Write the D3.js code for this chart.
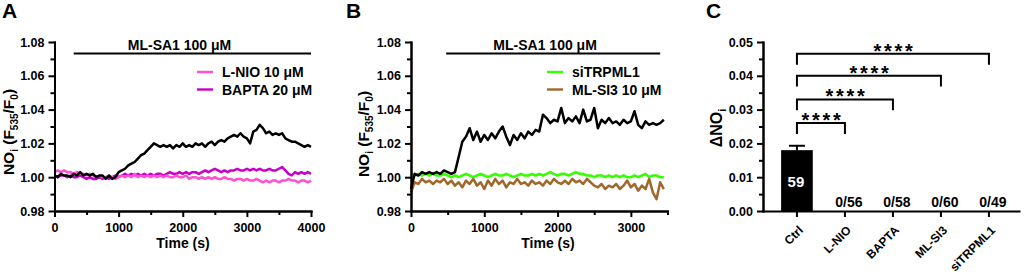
<!DOCTYPE html>
<html><head><meta charset="utf-8">
<script src="https://cdn.jsdelivr.net/npm/d3@7/dist/d3.min.js"></script>
<style>
html,body{margin:0;padding:0;background:#fff;}
svg{display:block;font-family:"Liberation Sans",Arial,sans-serif;font-weight:bold;}
</style></head><body>
<svg id="chart" width="1024" height="275"></svg>
<script>
// ---------------- DATA ----------------
const stepA = 50; // s between samples, panel A
const stepB = 50; // s between samples, panel B
const ctrlA = [1.001,1.000,1.002,1.001,1.001,1.000,1.002,1.001,1.003,1.001,1.002,1.001,1.002,1.000,1.001,1.001,0.999,1.001,0.999,1.000,
 1.003,1.004,1.005,1.007,1.008,1.009,1.011,1.013,1.014,1.016,1.018,1.020,1.019,1.018,1.019,1.018,1.019,1.017,1.019,1.018,
 1.020,1.018,1.019,1.018,1.020,1.019,1.020,1.018,1.020,1.021,1.019,1.021,1.022,1.021,1.023,1.024,1.025,1.024,1.026,1.024,
 1.023,1.020,1.027,1.028,1.031,1.029,1.026,1.027,1.025,1.026,1.025,1.026,1.023,1.022,1.021,1.021,1.020,1.019,1.018,1.019,1.018];
const lnioA = [1.003,1.004,1.003,1.004,1.003,1.003,1.002,1.003,1.002,1.002,1.001,1.002,1.001,1.000,1.001,1.000,1.000,1.001,1.000,0.999,
 1.000,1.001,1.000,1.001,1.000,1.002,1.000,1.001,1.000,1.001,1.000,1.001,1.000,1.001,1.000,1.001,1.000,1.000,1.001,1.000,
 1.000,1.001,0.999,1.000,1.000,0.999,1.000,0.999,1.000,0.999,1.000,0.999,0.999,1.000,0.999,0.999,0.998,0.999,0.999,0.998,
 0.999,0.998,0.998,0.999,0.998,0.997,0.998,0.997,0.998,0.998,0.997,0.998,0.998,0.999,0.998,0.998,0.997,0.998,0.998,0.997,0.998];
const baptaA = [1.001,1.000,1.001,1.001,1.000,1.001,1.000,1.000,1.001,1.000,0.999,1.000,0.999,0.999,1.000,0.999,1.000,0.999,1.000,1.001,
 1.000,1.001,1.002,1.001,1.002,1.001,1.002,1.001,1.002,1.001,1.002,1.001,1.002,1.002,1.001,1.002,1.003,1.002,1.002,1.003,
 1.002,1.003,1.002,1.003,1.003,1.002,1.003,1.004,1.003,1.004,1.005,1.004,1.003,1.004,1.003,1.004,1.004,1.005,1.004,1.004,
 1.005,1.004,1.005,1.004,1.005,1.004,1.004,1.005,1.004,1.004,1.005,1.006,1.004,1.002,1.001,1.003,1.002,1.003,1.002,1.003,1.002];
const ctrlB = [0.993,1.002,1.001,1.003,1.002,1.003,1.002,1.003,1.002,1.004,1.003,1.002,1.003,1.012,1.021,1.024,1.029,1.022,1.027,1.021,
 1.025,1.022,1.026,1.023,1.027,1.030,1.024,1.019,1.025,1.022,1.026,1.023,1.027,1.025,1.028,1.027,1.037,1.035,1.032,1.034,
 1.033,1.041,1.032,1.035,1.033,1.036,1.032,1.040,1.033,1.034,1.041,1.029,1.034,1.032,1.035,1.032,1.033,1.031,1.034,1.032,
 1.033,1.039,1.031,1.029,1.033,1.031,1.032,1.031,1.032,1.034];
const siTrpB = [1.002,1.001,1.002,1.001,1.002,1.001,1.002,1.001,1.001,1.002,1.001,1.000,1.001,1.000,1.001,1.002,1.001,1.000,1.001,1.002,
 1.001,1.000,1.001,1.002,1.001,1.001,1.002,1.001,1.000,1.001,1.002,1.001,1.001,1.002,1.001,1.002,1.001,1.002,1.003,1.002,
 1.001,1.002,1.002,1.001,1.002,1.003,1.002,1.002,1.001,1.001,1.000,1.001,1.001,1.000,1.001,1.000,1.001,1.000,1.001,1.000,
 1.000,1.001,1.000,1.001,1.002,1.000,1.001,1.001,1.000,1.000];
const mlsi3B = [0.991,0.997,0.996,0.999,0.997,0.998,0.996,0.998,0.997,0.999,0.996,0.998,0.995,0.997,0.994,0.998,0.996,0.999,0.995,0.997,
 0.993,0.998,0.995,0.999,0.996,0.998,0.994,0.997,0.996,0.999,0.996,0.997,0.995,0.998,0.996,0.997,0.995,0.998,0.996,0.999,
 0.997,0.996,0.998,0.996,0.999,0.997,0.998,0.996,0.999,0.997,0.995,0.994,0.996,0.993,0.995,0.994,0.996,0.993,0.995,0.998,
 0.994,0.996,0.992,0.995,0.993,0.999,0.991,0.987,0.997,0.993];
const legendA = ["L-NIO 10 \u03bcM","BAPTA 20 \u03bcM"];
const legendB = ["siTRPML1","ML-SI3 10 \u03bcM"];
const drugLabel = "ML-SA1 100 \u03bcM";
const drugA = [300, 4000];
const drugB = [480, 3400];
const yTicksTrace = [0.98,1.00,1.02,1.04,1.06,1.08];
const yMinorTrace = [0.99,1.01,1.03,1.05,1.07];
const xTicksA = [0,1000,2000,3000,4000];
const xMinorA = [500,1500,2500,3500];
const xTicksB = [0,1000,2000,3000];
const xMinorB = [500,1500,2500,3500];

const cats = ["Ctrl","L-NIO","BAPTA","ML-SI3","siTRPML1"];
const deltaMean = [0.018,0,0,0,0];
const deltaErr = [0.0013,0,0,0,0];
const nLabels = ["59","0/56","0/58","0/60","0/49"];
const bracketTo = ["L-NIO","BAPTA","ML-SI3","siTRPML1"];
const bracketLevel = [0.026,0.033,0.040,0.0465];
const bracketDrop = 0.0032;
const sigText = "****";
const yTicksC = [0,0.01,0.02,0.03,0.04,0.05];
const yMinorC = [0.005,0.015,0.025,0.035,0.045];

const colors = {ctrl:"#000000", lnio:"#ff4fd2", bapta:"#c800c8", sitrp:"#33ff00", mlsi3:"#a0662a"};

// ---------------- DRAW ----------------
const svg = d3.select("#chart");
const AX = 2;
const TICKFONT = "12.5px";

function styleAxis(g){
  g.select(".domain").attr("stroke","#000").attr("stroke-width",AX).attr("stroke-linecap","square");
  g.selectAll(".tick line").attr("stroke","#000").attr("stroke-width",AX);
  g.selectAll(".tick text").attr("fill","#000").style("font-size",TICKFONT).style("font-weight","bold")
    .style("font-family",'"Liberation Sans",Arial,sans-serif');
}

function tracePanel(opt){
  const x = d3.scaleLinear().domain(opt.xDomain).range(opt.xRange);
  const y = d3.scaleLinear().domain([0.98,1.08]).range([211,42]);
  const g = svg.append("g");
  // series
  const line = d3.line().x((d,i)=>x(i*opt.step)).y(d=>y(d)).curve(d3.curveLinear);
  opt.series.forEach(s=>{
    g.append("path").datum(s.values).attr("d",line).attr("fill","none")
     .attr("stroke",s.color).attr("stroke-width",2.5).attr("stroke-linejoin","round");
  });
  // axes
  const yg = g.append("g").attr("transform",`translate(${opt.xRange[0]},0)`)
    .call(d3.axisLeft(y).tickValues(yTicksTrace).tickSize(6).tickSizeOuter(0).tickPadding(4).tickFormat(d3.format(".2f")));
  styleAxis(yg);
  const ygm = g.append("g").attr("transform",`translate(${opt.xRange[0]},0)`)
    .call(d3.axisLeft(y).tickValues(yMinorTrace).tickSize(4).tickSizeOuter(0).tickFormat(""));
  styleAxis(ygm);
  const xg = g.append("g").attr("transform","translate(0,211)")
    .call(d3.axisBottom(x).tickValues(opt.xTicks).tickSize(6).tickSizeOuter(0).tickPadding(6).tickFormat(d3.format("d")));
  styleAxis(xg);
  const xgm = g.append("g").attr("transform","translate(0,211)")
    .call(d3.axisBottom(x).tickValues(opt.xMinor).tickSize(4).tickSizeOuter(0).tickFormat(""));
  styleAxis(xgm);
  // drug bar
  g.append("line").attr("x1",x(opt.drug[0])).attr("x2",x(opt.drug[1])).attr("y1",53.5).attr("y2",53.5)
    .attr("stroke","#000").attr("stroke-width",2.2);
  g.append("text").attr("x",x(opt.drugTextAt)).attr("y",50).attr("text-anchor","middle")
    .style("font-size","14px").text(drugLabel);
  // legend
  opt.legend.forEach((l,i)=>{
    const yy = 72 + i*17.5;
    g.append("line").attr("x1",opt.legX).attr("x2",opt.legX+16).attr("y1",yy).attr("y2",yy)
      .attr("stroke",l.color).attr("stroke-width",2.4);
    g.append("text").attr("x",opt.legX+25).attr("y",yy+5).style("font-size","14px").text(l.label);
  });
  // axis titles
  g.append("text").attr("x",opt.timeX).attr("y",248).attr("text-anchor","middle").style("font-size","14px").text("Time (s)");
  const yl = g.append("text").attr("transform",`translate(${opt.yLabX},${opt.yLabY}) rotate(-90)`)
    .attr("text-anchor","middle").style("font-size","15.5px");
  yl.append("tspan").text("NO");
  yl.append("tspan").attr("dy",4).style("font-size","10px").text("i");
  yl.append("tspan").attr("dy",-4).text(" (F");
  yl.append("tspan").attr("dy",4).style("font-size","10px").text("535");
  yl.append("tspan").attr("dy",-4).text("/F");
  yl.append("tspan").attr("dy",4).style("font-size","10px").text("0");
  yl.append("tspan").attr("dy",-4).text(")");
  // panel letter
  svg.append("text").attr("x",opt.letterX).attr("y",18).style("font-size","21px").text(opt.letter);
}

tracePanel({
  letter:"A", letterX:2,
  xDomain:[0,4000], xRange:[54.5,311], step:stepA,
  xTicks:xTicksA, xMinor:xMinorA,
  series:[{values:baptaA,color:colors.bapta},{values:lnioA,color:colors.lnio},{values:ctrlA,color:colors.ctrl}],
  drug:drugA, drugTextAt:1950,
  legend:[{label:legendA[0],color:colors.lnio},{label:legendA[1],color:colors.bapta}], legX:197,
  timeX:183, yLabX:14, yLabY:132
});
tracePanel({
  letter:"B", letterX:346,
  xDomain:[0,3500], xRange:[411,667.5], step:stepB,
  xTicks:xTicksB, xMinor:xMinorB,
  series:[{values:mlsi3B,color:colors.mlsi3},{values:siTrpB,color:colors.sitrp},{values:ctrlB,color:colors.ctrl}],
  drug:drugB, drugTextAt:1830,
  legend:[{label:legendB[0],color:colors.sitrp},{label:legendB[1],color:colors.mlsi3}], legX:547,
  timeX:548, yLabX:368.5, yLabY:134
});

// ---------------- PANEL C ----------------
(function(){
  const x = d3.scaleBand().domain(cats).range([763,1019]).paddingInner(0.34).paddingOuter(0.3367).align(0.56);
  const y = d3.scaleLinear().domain([0,0.05]).range([211,42]);
  const g = svg.append("g");
  const cx = c => x(c) + x.bandwidth()/2;
  // bars
  g.selectAll("rect.bar").data(cats).enter().append("rect")
    .attr("x",d=>x(d)).attr("width",x.bandwidth())
    .attr("y",(d,i)=>y(deltaMean[i])).attr("height",(d,i)=>y(0)-y(deltaMean[i])).attr("fill","#000");
  // error bars
  cats.forEach((c,i)=>{
    if(deltaErr[i]>0){
      g.append("line").attr("x1",cx(c)).attr("x2",cx(c)).attr("y1",y(deltaMean[i])).attr("y2",y(deltaMean[i]+deltaErr[i]))
        .attr("stroke","#000").attr("stroke-width",2);
      g.append("line").attr("x1",cx(c)-8).attr("x2",cx(c)+8).attr("y1",y(deltaMean[i]+deltaErr[i])).attr("y2",y(deltaMean[i]+deltaErr[i]))
        .attr("stroke","#000").attr("stroke-width",2);
    }
  });
  // n labels
  cats.forEach((c,i)=>{
    if(deltaMean[i]>0){
      g.append("text").attr("x",cx(c)-1).attr("y",y(deltaMean[i]/2)+6).attr("text-anchor","middle")
        .attr("fill","#fff").style("font-size","15px").text(nLabels[i]);
    } else {
      g.append("text").attr("x",cx(c)+4).attr("y",207).attr("text-anchor","middle")
        .style("font-size","14px").text(nLabels[i]);
    }
  });
  // axes
  const yg = g.append("g").attr("transform","translate(763,0)")
    .call(d3.axisLeft(y).tickValues(yTicksC).tickSize(6).tickSizeOuter(0).tickPadding(4).tickFormat(d3.format(".2f")));
  styleAxis(yg);
  const ygm = g.append("g").attr("transform","translate(763,0)")
    .call(d3.axisLeft(y).tickValues(yMinorC).tickSize(4).tickSizeOuter(0).tickFormat(""));
  styleAxis(ygm);
  const xg = g.append("g").attr("transform","translate(0,211)")
    .call(d3.axisBottom(x).tickSize(6).tickSizeOuter(0).tickFormat(""));
  styleAxis(xg);
  // category labels
  cats.forEach(c=>{
    g.append("text").attr("transform",`translate(${cx(c)+4},${228}) rotate(-45)`)
      .attr("text-anchor","end").attr("dy","0.35em").style("font-size","12px").text(c);
  });
  // brackets
  bracketTo.forEach((c,i)=>{
    const x1 = cx(cats[0]), x2 = cx(c);
    const yt = y(bracketLevel[i]), yb = y(bracketLevel[i]-bracketDrop);
    g.append("path").attr("d",`M${x1},${yb}V${yt}H${x2}V${yb}`).attr("fill","none")
      .attr("stroke","#000").attr("stroke-width",2);
    g.append("text").attr("x",(x1+x2)/2+1.5).attr("y",yt+4).attr("text-anchor","middle")
      .style("font-size","20px").style("letter-spacing","2.7px").text(sigText);
  });
  // y title
  const yl = g.append("text").attr("transform","translate(722,128) rotate(-90)").attr("text-anchor","middle").style("font-size","16px");
  yl.append("tspan").text("\u0394NO");
  yl.append("tspan").attr("dy",4).style("font-size","10.5px").text("i");
  svg.append("text").attr("x",706).attr("y",18).style("font-size","21px").text("C");
})();
</script>
</body></html>
